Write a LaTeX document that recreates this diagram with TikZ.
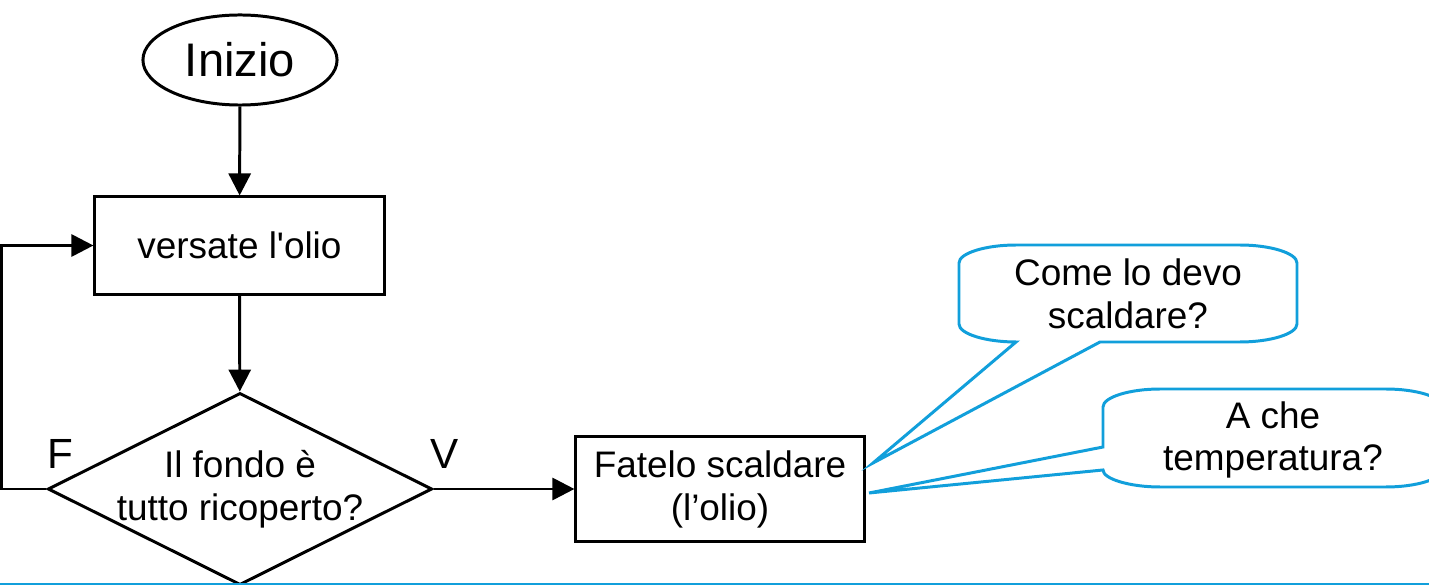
\documentclass[tikz,border=0pt]{standalone}
\usepackage{fontspec}
\setmainfont{Liberation Sans}
\usetikzlibrary{shapes.geometric,arrows.meta}
\definecolor{callblue}{RGB}{17,159,219}
\def \lw{0.85pt}

\begin{document}
\begin{tikzpicture}[x=0.01cm, y=-0.01cm, line width=\lw,
    every node/.style={font=\fontsize{10.5}{12.2}\selectfont},
    arr/.style={-{Triangle[length=0.22cm,width=0.22cm]}},
    bubble/.style={draw=callblue, fill=white}]
    \useasboundingbox (0,0) rectangle (1429,585);
    \node[shape=ellipse, draw=black, minimum width=1.94cm, minimum height=0.9cm, inner sep=0pt,
      font=\fontsize{13.4}{16}\selectfont] (S) at (240,60) {Inizio};
    \node[shape=rectangle, draw=black, minimum width=2.89cm, minimum height=0.97cm] (A) at (239.5,245.5) {versate l\textquotesingle olio};
    \node[shape=diamond, draw=black, minimum width=3.84cm, minimum height=1.92cm, inner sep=0pt,
      label={[align=center]center:Il fondo è\\tutto ricoperto?}] (D) at (240,489) {};
    \node[shape=rectangle, draw=black, minimum width=2.88cm, minimum height=1.04cm, align=center] (B) at (720,489) {Fatelo scaldare\\(l’olio)};
    \node[font=\fontsize{12}{14}\selectfont] (F) at (60,454) {F};
    \node[font=\fontsize{12}{14}\selectfont] (V) at (445,454) {V};
    \path[arr] (S) edge (A);
    \path[arr] (A) edge (D);
    \path[arr] (D) edge (B);
    \draw[arr] (D.west) -- (1.5,489) |- (A.west);
    % callouts
    \coordinate (T1) at (873,463);
    \coordinate (T2) at (869,493);
    \draw[bubble] (1016,342) -- (T1) -- (1100,342) -- (1240,342)
      .. controls (1270,342) and (1297,334) .. (1297,324) -- (1297,263)
      .. controls (1297,253) and (1270,245) .. (1240,245) -- (1016,245)
      .. controls (986,245) and (959,253) .. (959,263) -- (959,324)
      .. controls (959,334) and (986,342) .. (1016,342) -- cycle;
    \draw[bubble] (1103,447) -- (T2) -- (1103,470)
      .. controls (1103,479) and (1130,487) .. (1160,487) -- (1386,487)
      .. controls (1416,487) and (1443,479) .. (1443,469) -- (1443,407)
      .. controls (1443,397) and (1416,389) .. (1386,389) -- (1160,389)
      .. controls (1130,389) and (1103,397) .. (1103,407) -- cycle;
    \node[align=center] (Q1) at (1128,294) {Come lo devo\\scaldare?};
    \node[align=center] (Q2) at (1273,440) {A che\\temperatura?};
    \draw[callblue, line width=0.6pt] (0,584) -- (1429,584);
  \end{tikzpicture}
\end{document}
